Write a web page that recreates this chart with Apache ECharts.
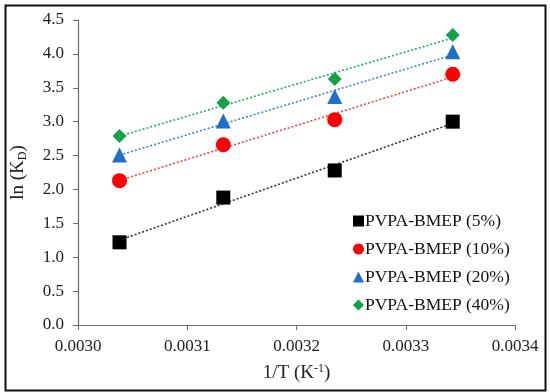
<!DOCTYPE html>
<html><head><meta charset="utf-8">
<script src="https://cdn.jsdelivr.net/npm/echarts@6/dist/echarts.min.js"></script>
<style>html,body{margin:0;padding:0;background:#fff}#c{width:550px;height:392px}</style>
</head><body><div id="c"></div>
<script>
const invT = [0.003038, 0.003133, 0.003235, 0.003343];
const s5 = [1.22, 1.88, 2.28, 3.00];
const s10 = [2.13, 2.66, 3.03, 3.70];
const s20 = [2.51, 3.01, 3.37, 4.03];
const s40 = [2.79, 3.28, 3.63, 4.28];
const names = ['PVPA-BMEP (5%)', 'PVPA-BMEP (10%)', 'PVPA-BMEP (20%)', 'PVPA-BMEP (40%)'];
const xTicks = ['0.0030','0.0031','0.0032','0.0033','0.0034'];
const yTicks = ['0.0','0.5','1.0','1.5','2.0','2.5','3.0','3.5','4.0','4.5'];

const colors = ['#000000', '#ff0000', '#1f6fc8', '#12a24a'];
const lineColors = ['#333333', '#e84545', '#3a86d0', '#22aa66'];
const symbols = ['rect', 'circle', 'triangle', 'diamond'];
const sizes = [14, 15, 15, 14];
const all = [s5, s10, s20, s40];

function fit(xs, ys) {
  const n = xs.length;
  const mx = xs.reduce((a,b)=>a+b,0)/n, my = ys.reduce((a,b)=>a+b,0)/n;
  let sxy = 0, sxx = 0;
  for (let i=0;i<n;i++){ sxy += (xs[i]-mx)*(ys[i]-my); sxx += (xs[i]-mx)*(xs[i]-mx); }
  const b = sxy/sxx, a = my - b*mx;
  return [[xs[0], a + b*xs[0]], [xs[n-1], a + b*xs[n-1]]];
}

const series = [];
all.forEach((ys, i) => {
  series.push({
    name: names[i] + ' fit', type: 'line', data: fit(invT, ys), symbol: 'none', silent: true,
    lineStyle: { color: lineColors[i], width: 1.6, type: [2, 2] }, z: 1
  });
});
all.forEach((ys, i) => {
  series.push({
    name: names[i], type: 'scatter', data: invT.map((x, j) => [x, ys[j]]),
    symbol: symbols[i], symbolSize: sizes[i], itemStyle: { color: colors[i], opacity: 1 }, z: 3
  });
});

const font = 'Liberation Serif, Times New Roman, serif';
const chart = echarts.init(document.getElementById('c'), null, { renderer: 'canvas' });
chart.setOption({
  animation: false,
  backgroundColor: '#fff',
  grid: { left: 78, right: 35, top: 20, bottom: 67, containLabel: false, outerBoundsMode: 'none' },
  xAxis: {
    type: 'value', min: 0.0030, max: 0.0034, interval: 0.0001,
    axisLine: { show: true, lineStyle: { color: '#6b6b6b', width: 1.2 } },
    axisTick: { show: true, length: 5, lineStyle: { color: '#6b6b6b' } },
    splitLine: { show: false },
    axisLabel: { color: '#222', fontFamily: font, fontSize: 17, margin: 13,
      formatter: (v) => { const k = Math.round((v - 0.003) / 0.0001); return xTicks[k]; } },
    name: '1/T (K{sup|-1})', nameLocation: 'middle', nameGap: 38,
    nameTextStyle: { color: '#222', fontFamily: font, fontSize: 19,
      rich: { sup: { fontFamily: font, fontSize: 12, verticalAlign: 'top', padding: [0,0,9,0], color: '#222' } } }
  },
  yAxis: {
    type: 'value', min: 0, max: 4.5, interval: 0.5,
    axisLine: { show: true, lineStyle: { color: '#6b6b6b', width: 1.2 } },
    axisTick: { show: true, length: 5, lineStyle: { color: '#6b6b6b' } },
    splitLine: { show: false },
    axisLabel: { color: '#222', fontFamily: font, fontSize: 17, margin: 14,
      formatter: (v) => yTicks[Math.round(v / 0.5)] },
    name: 'ln (K{sub|D})', nameLocation: 'middle', nameGap: 49, nameRotate: 90,
    nameTextStyle: { color: '#222', fontFamily: font, fontSize: 19,
      rich: { sub: { fontFamily: font, fontSize: 12, verticalAlign: 'bottom', padding: [9,0,0,0], color: '#222' } } }
  },
  legend: {
    data: names.map((n, i) => ({ name: n, icon: symbols[i] })),
    orient: 'vertical', left: 348, top: 206, itemWidth: 11, itemHeight: 11, itemGap: 8,
    textStyle: { fontFamily: font, fontSize: 17.5, color: '#111', lineHeight: 20, padding: [0,0,0,-4] }
  },
  graphic: [{
    type: 'rect', left: 3, top: 3, shape: { width: 540, height: 385 },
    style: { fill: 'none', stroke: '#111', lineWidth: 2 }, z: 100
  }],
  series: series
});
</script></body></html>
